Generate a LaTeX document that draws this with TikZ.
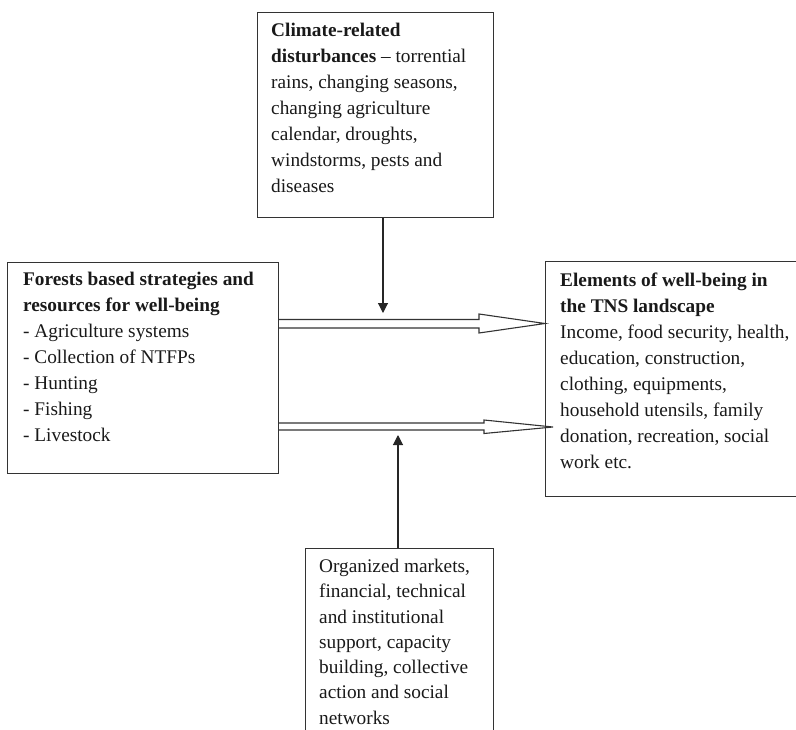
\documentclass[tikz,border=0pt]{standalone}
\usepackage{fontspec}
\setmainfont{Liberation Serif}
\usetikzlibrary{arrows.meta,calc}
\begin{document}
\begin{tikzpicture}[x=1pt,y=-1pt,
  box/.style={draw=black!80,line width=1.1pt,inner sep=0pt,anchor=north west},
  txt/.style={align=left,inner sep=0pt,anchor=north west,text=black!90,
    font=\fontsize{19.3}{26}\selectfont},
  conn/.style={draw=black!85,line width=1.1pt,-{Triangle[length=10pt,width=10pt]}},
  hollow/.style={draw=black!80,line width=1.1pt,fill=white,line join=miter}]
\useasboundingbox (0,0) rectangle (796,729);
\clip (0,0) rectangle (796,729);
% boxes
\node[box,minimum width=236pt,minimum height=205pt] (clim) at (257,12) {};
\node[box,minimum width=271pt,minimum height=211pt] (forest) at (7,262) {};
\node[box,minimum width=300pt,minimum height=235pt] (well) at (545,261) {};
\node[box,minimum width=188pt,minimum height=250pt] (org) at (305,548) {};
% texts
\node[txt] (climtxt) at (271,22.8) {\textbf{Climate-related}\\
  \textbf{disturbances} – torrential\\
  rains, changing seasons,\\
  changing agriculture\\
  calendar, droughts,\\
  windstorms, pests and\\
  diseases};
\node[txt] (foresttxt) at (23,271.8) {\textbf{Forests based strategies and}\\
  \textbf{resources for well-being}\\
  - Agriculture systems\\
  - Collection of NTFPs\\
  - Hunting\\
  - Fishing\\
  - Livestock};
\node[txt] (welltxt) at (560,272.8) {\textbf{Elements of well-being in}\\
  \textbf{the TNS landscape}\\
  Income, food security, health,\\
  education, construction,\\
  clothing, equipments,\\
  household utensils, family\\
  donation, recreation, social\\
  work etc.};
\node[txt,font=\fontsize{19.3}{25.3}\selectfont] (orgtxt) at (319,558.8) {Organized markets,\\
  financial, technical\\
  and institutional\\
  support, capacity\\
  building, collective\\
  action and social\\
  networks};
% thin arrows
\coordinate (tipdown) at (383,313);
\coordinate (tipup) at (398,435);
\draw[conn] (clim.south -| tipdown) -- (tipdown);
\draw[conn] (org.north -| tipup) -- (tipup);
% hollow arrows
\coordinate (a1s) at (479,0);
\coordinate (a1tip) at (545,323.5);
\draw[hollow] ($(forest.north east)+(0,57.5)$) -- ($(a1s)+(0,319.5)$) -- ($(a1s)+(0,314)$)
  -- (a1tip) -- ($(a1s)+(0,333)$) -- ($(a1s)+(0,328)$) -- ($(forest.north east)+(0,66)$);
\coordinate (a2s) at (484,0);
\coordinate (a2tip) at (553,427);
\draw[hollow] ($(forest.north east)+(0,161)$) -- ($(a2s)+(0,423)$) -- ($(a2s)+(0,420)$)
  -- (a2tip) -- ($(a2s)+(0,433.5)$) -- ($(a2s)+(0,430)$) -- ($(forest.north east)+(0,168)$);
\end{tikzpicture}
\end{document}
